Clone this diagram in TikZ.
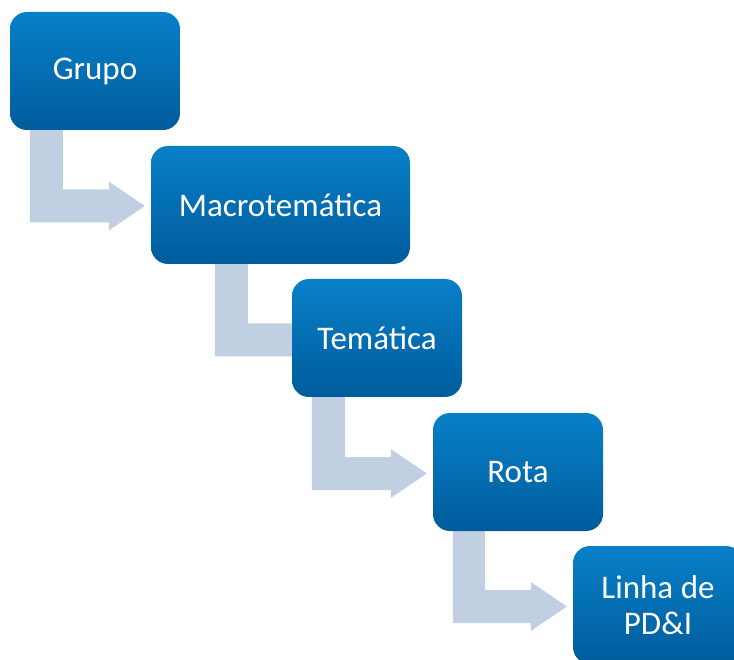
\documentclass[tikz,border=0pt]{standalone}
\usepackage{fontspec}
\setmainfont{Carlito}
\usetikzlibrary{backgrounds}
\definecolor{boxtop}{HTML}{0880C8}
\definecolor{boxbot}{HTML}{005C9C}
\definecolor{bentfill}{HTML}{C1CFE3}
\begin{document}
\begin{tikzpicture}[x=1pt,y=-1pt,
  stage/.style={rounded corners=17pt,top color=boxtop,bottom color=boxbot,
    text=white,align=center,minimum height=118pt,inner sep=0pt,
    font=\fontsize{33}{36}\selectfont},
  bentarrow/.style={fill=bentfill}]
\clip (0,0) rectangle (734,660);
\node[stage,minimum width=170pt] (grupo) at (95,71) {Grupo};
\node[stage,minimum width=259pt] (macro) at (280.5,205) {Macrotemática};
\node[stage,minimum width=170pt] (tematica) at (377,338) {Temática};
\node[stage,minimum width=170pt] (rota) at (518,472) {Rota};
\node[stage,minimum width=170pt] (linha) at (658,605) {Linha de\\PD\&I};
%
\coordinate (t1) at ([xshift=-6pt,yshift=-1pt]macro.west);
\coordinate (t2) at ([xshift=38pt,yshift=-2pt]tematica.west);
\coordinate (t3) at ([xshift=-6pt,yshift=-1.5pt]rota.west);
\coordinate (t4) at ([xshift=-6pt,yshift=-1.5pt]linha.west);
\begin{scope}[on background layer]
\fill[bentarrow] ([xshift=20pt]grupo.south west) |- ([xshift=-36pt,yshift=-16.5pt]t1)
  -- ++(0,8) -- (t1) -- ++(-36,-24.5) -- ++(0,8) -| ([xshift=53pt]grupo.south west) -- cycle;
\fill[bentarrow] ([xshift=64pt]macro.south west) |- ([xshift=-36pt,yshift=-16.5pt]t2)
  -- ++(0,8) -- (t2) -- ++(-36,-24.5) -- ++(0,8) -| ([xshift=97pt]macro.south west) -- cycle;
\fill[bentarrow] ([xshift=20pt]tematica.south west) |- ([xshift=-36pt,yshift=-16.5pt]t3)
  -- ++(0,8) -- (t3) -- ++(-36,-24.5) -- ++(0,8) -| ([xshift=53pt]tematica.south west) -- cycle;
\fill[bentarrow] ([xshift=20pt]rota.south west) |- ([xshift=-36pt,yshift=-16.5pt]t4)
  -- ++(0,8) -- (t4) -- ++(-36,-24.5) -- ++(0,8) -| ([xshift=52pt]rota.south west) -- cycle;
\end{scope}
\end{tikzpicture}
\end{document}
